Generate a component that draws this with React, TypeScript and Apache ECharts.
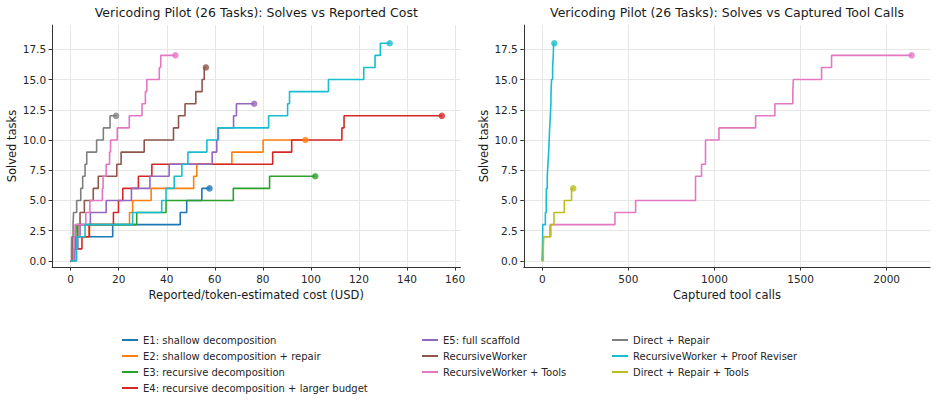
import React, { useEffect, useRef } from 'react';
import * as echarts from 'echarts';

const FONT = 'DejaVu Sans';

// ---- tick labels ----
const xTicksCost = [0, 20, 40, 60, 80, 100, 120, 140, 160];
const xTicksCalls = [0, 500, 1000, 1500, 2000];
const yTicks = [0, 2.5, 5, 7.5, 10, 12.5, 15, 17.5];

// ---- legend / series names ----
const seriesNames = [
  'E1: shallow decomposition',
  'E2: shallow decomposition + repair',
  'E3: recursive decomposition',
  'E4: recursive decomposition + larger budget',
  'E5: full scaffold',
  'RecursiveWorker',
  'RecursiveWorker + Tools',
  'Direct + Repair',
  'RecursiveWorker + Proof Reviser',
  'Direct + Repair + Tools',
];
const seriesColors = [
  '#1f77b4', '#ff7f0e', '#2ca02c', '#d62728', '#9467bd',
  '#8c564b', '#e377c2', '#7f7f7f', '#17becf', '#bcbd22',
];

// ---- left panel: [cost USD, solved tasks] ----
const costE1 = [[0, 0], [1.5, 1], [2.0, 2], [17.5, 3], [45.6, 4], [48.3, 5], [54.6, 6], [57.8, 6]];
const costE2 = [[0, 0], [1.8, 1], [2.0, 2], [7.6, 3], [24.5, 4], [25.8, 5], [33.5, 6], [51.2, 7], [52.5, 8], [67.1, 9], [80.1, 10], [97.7, 10]];
const costE3 = [[0, 0], [1.3, 1], [2.2, 2], [2.3, 3], [27.5, 4], [39.7, 5], [67.7, 6], [82.8, 7], [101.8, 7]];
const costE4 = [[0, 0], [1.0, 1], [4.7, 2], [7.8, 3], [17.8, 4], [19.9, 5], [21.7, 6], [28.2, 7], [33.8, 8], [84.1, 9], [92.0, 10], [112.9, 11], [113.8, 12], [154.5, 12]];
const costE5 = [[0, 0], [1.5, 1], [3.0, 2], [3.9, 3], [8.2, 4], [14.8, 5], [25.3, 6], [33.0, 7], [41.0, 8], [58.9, 9], [60.8, 10], [61.5, 11], [67.8, 12], [69.0, 13], [76.4, 13]];
const costRW = [[0, 0], [0.5, 1], [0.8, 2], [3.0, 3], [3.9, 4], [5.7, 5], [9.4, 6], [11.5, 7], [19.2, 8], [21.0, 9], [30.6, 10], [42.8, 11], [44.9, 12], [47.6, 13], [52.1, 14], [54.7, 15], [55.6, 16], [56.3, 16]];
const costRWTools = [[0, 0], [1.2, 1], [1.5, 2], [1.8, 3], [6.3, 4], [8.0, 5], [13.2, 6], [13.5, 7], [14.8, 8], [16.2, 9], [16.6, 10], [19.4, 11], [24.4, 12], [29.7, 13], [31.1, 14], [31.7, 15], [36.9, 16], [37.5, 17], [43.6, 17]];
const costDR = [[0, 0], [0.4, 1], [0.5, 2], [1.0, 3], [1.2, 4], [2.5, 5], [4.2, 6], [5.0, 7], [6.0, 8], [6.7, 9], [10.8, 10], [13.6, 11], [16.4, 12], [18.9, 12]];
const costRWPR = [[0, 0], [2.5, 1], [2.5, 2], [6.0, 3], [25.8, 4], [37.9, 5], [39.7, 6], [43.1, 7], [46.3, 8], [48.8, 9], [56.7, 10], [61.2, 11], [82.4, 12], [90.3, 13], [91.1, 14], [107.3, 15], [122.0, 16], [126.7, 17], [128.9, 18], [132.8, 18]];

// ---- right panel: [captured tool calls, solved tasks] ----
const callsRWTools = [[0, 0], [3, 1], [4, 2], [45, 3], [422, 4], [542, 5], [890, 6], [890, 7], [925, 8], [948, 9], [948, 10], [1026, 11], [1239, 12], [1351, 13], [1455, 14], [1458, 15], [1622, 16], [1680, 17], [2145, 17]];
const callsRWPR = [[0, 0], [1, 1], [2, 2], [3, 3], [18, 4], [23, 5], [24, 6], [29, 7], [33, 8], [37, 9], [40, 10], [43, 11], [47, 12], [50, 13], [51, 14], [54, 15], [60, 16], [64, 17], [66, 18], [70, 18]];
const callsDRT = [[0, 0], [6, 1], [8, 2], [50, 3], [68, 4], [128, 5], [170, 6], [180, 6]];

const leftPanel: [number, number[][]][] = [
  [0, costE1], [1, costE2], [2, costE3], [3, costE4], [4, costE5],
  [5, costRW], [6, costRWTools], [7, costDR], [8, costRWPR],
];
const rightPanel: [number, number[][]][] = [
  [6, callsRWTools], [8, callsRWPR], [9, callsDRT],
];

const AX = '#333333';
const TXT = '#262626';

function makeAxis(gridIndex: number, min: number, max: number, ticks: number[], fmt: (v: number) => string, name: string, isY: boolean) {
  return {
    type: 'value',
    gridIndex,
    min,
    max,
    name,
    nameLocation: 'middle',
    nameGap: isY ? 34 : 20,
    nameRotate: isY ? 90 : 0,
    nameTextStyle: { fontFamily: FONT, fontSize: 11.5, color: '#1a1a1a' },
    axisLine: { show: true, onZero: false, lineStyle: { color: AX, width: 1 } },
    axisTick: { show: true, inside: false, length: 3.5, customValues: ticks, lineStyle: { color: AX, width: 1 } },
    axisLabel: { show: true, customValues: ticks, formatter: fmt, margin: 6, fontFamily: FONT, fontSize: 10.5, color: TXT },
    splitLine: { show: false },
    z: 5,
  };
}

function gridLines(xIdx: number, xs: number[]) {
  return {
    type: 'line',
    name: '__grid' + xIdx,
    xAxisIndex: xIdx,
    yAxisIndex: xIdx,
    data: [],
    silent: true,
    z: 0,
    zlevel: 0,
    markLine: {
      silent: true,
      z: 0,
      symbol: ['none', 'none'],
      label: { show: false },
      emphasis: { disabled: true },
      lineStyle: { color: '#e6e6e6', width: 1, type: 'solid' },
      data: [...xs.map((v) => ({ xAxis: v })), ...yTicks.map((v) => ({ yAxis: v }))],
    },
  };
}

function buildSeries() {
  const out: any[] = [gridLines(0, xTicksCost), gridLines(1, xTicksCalls)];
  const add = (axis: number, panel: [number, number[][]][]) => {
    panel.forEach(([k, data]) => {
      const c = seriesColors[k];
      out.push({
        type: 'line',
        name: seriesNames[k],
        xAxisIndex: axis,
        yAxisIndex: axis,
        step: 'end',
        data,
        color: c,
        showSymbol: false,
        symbol: 'none',
        lineStyle: { color: c, width: 1.6 },
        z: 10,
      });
      out.push({
        type: 'scatter',
        name: '__end' + axis + '_' + k,
        xAxisIndex: axis,
        yAxisIndex: axis,
        data: [data[data.length - 1]],
        symbol: 'circle',
        symbolSize: 6.5,
        itemStyle: { color: c },
        z: 11,
      });
    });
  };
  add(0, leftPanel);
  add(1, rightPanel);
  return out;
}

const legendCommon = {
  orient: 'vertical',
  icon: 'rect',
  itemWidth: 16,
  itemHeight: 2,
  itemGap: 2,
  padding: 0,
  selectedMode: false,
  textStyle: { fontFamily: FONT, fontSize: 10, lineHeight: 14, color: TXT },
};

const option: any = {
  animation: false,
  backgroundColor: '#ffffff',
  grid: [
    { left: 52.1, top: 25.1, width: 408.3, height: 241.9, containLabel: false },
    { left: 523.8, top: 25.1, width: 406.3, height: 241.9, containLabel: false },
  ],
  xAxis: [
    makeAxis(0, -7.725, 162.225, xTicksCost, (v) => String(v), 'Reported/token-estimated cost (USD)', false),
    makeAxis(1, -107.25, 2252.25, xTicksCalls, (v) => String(v), 'Captured tool calls', false),
  ],
  yAxis: [
    makeAxis(0, -0.5, 19.5, yTicks, (v) => v.toFixed(1), 'Solved tasks', true),
    makeAxis(1, -0.5, 19.5, yTicks, (v) => v.toFixed(1), 'Solved tasks', true),
  ],
  legend: [
    { ...legendCommon, left: 122, top: 333, data: seriesNames.slice(0, 4) },
    { ...legendCommon, left: 422, top: 333, data: seriesNames.slice(4, 7) },
    { ...legendCommon, left: 612, top: 333, data: seriesNames.slice(7, 10) },
  ],
  graphic: [
    {
      type: 'text', x: 256.3, y: 12,
      style: { text: 'Vericoding Pilot (26 Tasks): Solves vs Reported Cost', align: 'center', verticalAlign: 'middle', fontFamily: FONT, fontSize: 12.5, fill: '#1a1a1a' },
    },
    {
      type: 'text', x: 727, y: 12,
      style: { text: 'Vericoding Pilot (26 Tasks): Solves vs Captured Tool Calls', align: 'center', verticalAlign: 'middle', fontFamily: FONT, fontSize: 12.5, fill: '#1a1a1a' },
    },
  ],
  series: buildSeries(),
};

export default function App() {
  const ref = useRef<HTMLDivElement>(null);
  useEffect(() => {
    if (!ref.current) return;
    const chart = echarts.init(ref.current, null, { renderer: 'svg' });
    chart.setOption(option);
    return () => chart.dispose();
  }, []);
  return (
    <div
      ref={ref}
      style={{ position: 'fixed', left: 0, top: 0, width: 937, height: 402, background: '#ffffff' }}
    />
  );
}
